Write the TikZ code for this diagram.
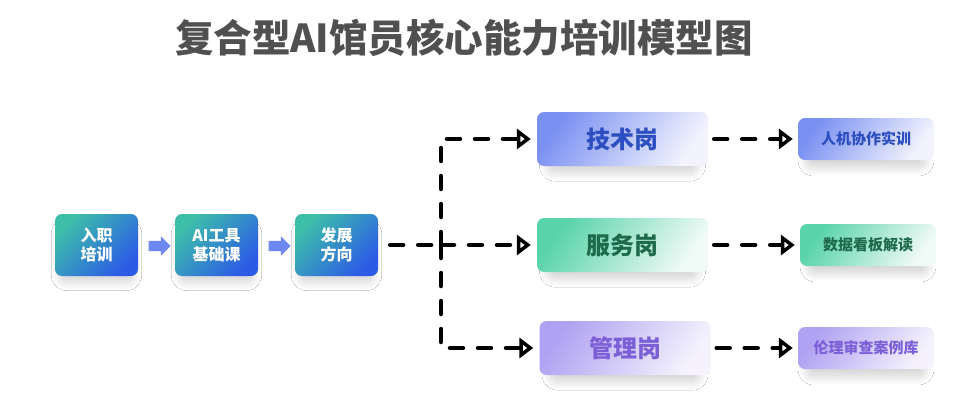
\documentclass[tikz,border=0pt]{standalone}
\usepackage{fontspec}
\setmainfont{Noto Sans CJK SC}
\usetikzlibrary{arrows.meta,shapes.arrows,shadows.blur,calc}
\definecolor{titlegray}{HTML}{505050}
\definecolor{tealA}{HTML}{3DBFA8}
\definecolor{blueA}{HTML}{2C5BE6}
\definecolor{barrow}{HTML}{6E88F0}
\definecolor{techA}{HTML}{7B91F2}
\definecolor{techB}{HTML}{F2F3FD}
\definecolor{techT}{HTML}{2D4EC0}
\definecolor{servA}{HTML}{58D3AA}
\definecolor{servB}{HTML}{F0FAF6}
\definecolor{servT}{HTML}{1E6A4C}
\definecolor{mgmtA}{HTML}{B0A2F2}
\definecolor{mgmtB}{HTML}{F5F2FD}
\definecolor{mgmtT}{HTML}{7A5FD6}
\tikzset{
  basebox/.style={rounded corners=7pt, inner sep=0pt, align=center, font=\bfseries,
    blur shadow={shadow xshift=0pt, shadow yshift=-11pt, shadow scale=0.86,
      shadow blur radius=11pt, shadow blur steps=30, shadow opacity=20}},
  stagebox/.style={basebox, minimum width=83pt, minimum height=62pt, text=white,
    font=\bfseries\fontsize{16}{19}\selectfont,
    top color=tealA, bottom color=blueA, shading angle=45},
  rolebox/.style={basebox, minimum width=171pt, minimum height=54pt,
    font=\bfseries\fontsize{24}{28}\selectfont},
  subbox/.style={basebox, minimum width=136pt, minimum height=42pt,
    font=\bfseries\fontsize{15}{18}\selectfont},
  techfill/.style={top color=techA, bottom color=techB, shading angle=55, text=techT},
  servfill/.style={top color=servA, bottom color=servB, shading angle=55, text=servT},
  mgmtfill/.style={top color=mgmtA, bottom color=mgmtB, shading angle=55, text=mgmtT},
  blockarrow/.style={single arrow, fill=barrow, draw=none, inner sep=0pt,
    single arrow head extend=4.5pt, single arrow head indent=0pt, minimum height=22pt},
  dashline/.style={line width=4.5pt, dash pattern=on 13pt off 15pt, line cap=round, black},
  dasharrow/.style={dashline, -{Triangle[open, length=14pt, width=20pt, line width=4.5pt]}}
}
\begin{document}
\begin{tikzpicture}[x=1pt,y=-1pt]
\useasboundingbox[fill=white] (0,0) rectangle (960,412);
\node[font=\bfseries\fontsize{38.5}{44}\selectfont, text=titlegray] (title) at (464,38) {复合型AI馆员核心能力培训模型图};
% stage boxes
\node[stagebox] (in) at (96.5,245) {入职\\培训};
\node[stagebox] (ai) at (216.5,245) {AI工具\\基础课};
\node[stagebox] (dev) at (336.5,245) {发展\\方向};
\node[blockarrow] (a1) at (157,246) {\rule{0pt}{10pt}};
\node[blockarrow] (a2) at (277,246) {\rule{0pt}{10pt}};
% role boxes
\node[rolebox, techfill] (tech) at (622.5,139) {技术岗};
\node[rolebox, servfill] (serv) at (622.5,245) {服务岗};
\node[rolebox, mgmtfill] (mgmt) at (625,348) {管理岗};
% sub boxes
\node[subbox, techfill] (r1) at (866,139) {人机协作实训};
\node[subbox, servfill] (r2) at (868,245) {数据看板解读};
\node[subbox, mgmtfill] (r3) at (866,348) {伦理审查案例库};
% connectors
\coordinate (j) at (441,245);
\draw[dashline, shorten <=12pt] (dev.east) -- (j);
\draw[dasharrow, shorten >=6pt] (j) |- (tech.west);
\draw[dasharrow, shorten >=6pt] (j) -- (serv.west);
\draw[dasharrow, shorten >=6pt] (j) |- (mgmt.west);
\draw[dasharrow, shorten <=6pt, shorten >=5pt] (tech.east) -- (r1.west);
\draw[dasharrow, shorten <=6pt, shorten >=5pt] (serv.east) -- (r2.west);
\draw[dasharrow, shorten <=6pt, shorten >=5pt] (mgmt.east) -- (r3.west);
\end{tikzpicture}
\end{document}
